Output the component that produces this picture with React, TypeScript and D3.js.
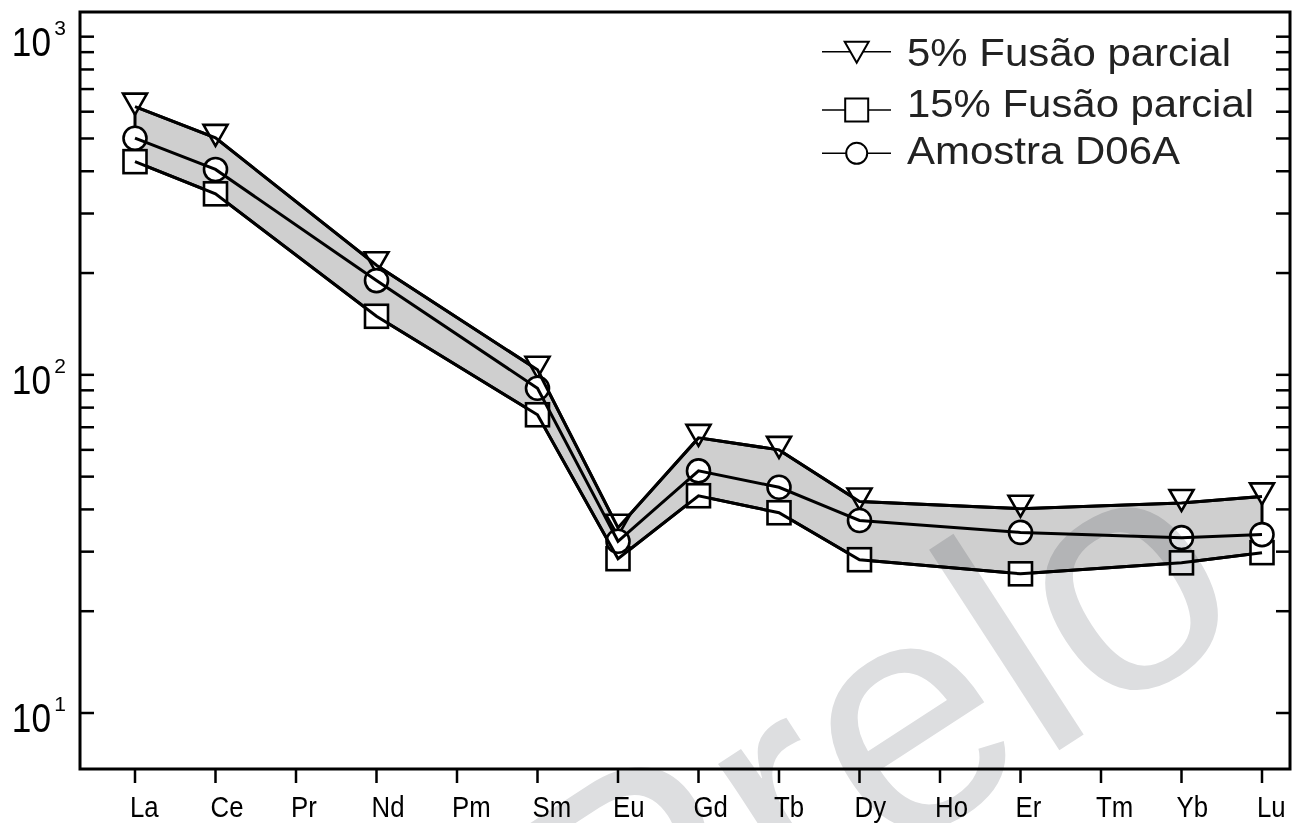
import React from 'react';
import * as d3 from 'd3';

// REE pattern (chondrite normalised)
const elements = ['La', 'Ce', 'Pr', 'Nd', 'Pm', 'Sm', 'Eu', 'Gd', 'Tb', 'Dy', 'Ho', 'Er', 'Tm', 'Yb', 'Lu'];
const measured = ['La', 'Ce', 'Nd', 'Sm', 'Eu', 'Gd', 'Tb', 'Dy', 'Er', 'Yb', 'Lu'];

const melt5 = [621, 502, 211, 103.5, 35.3, 65.1, 60.0, 42.2, 40.2, 41.8, 43.7];
const melt15 = [427, 343, 149, 76.2, 28.6, 43.9, 39.1, 28.4, 25.8, 27.8, 29.8];
const sampleD06A = [501, 405, 190, 91.3, 32.2, 52.0, 46.5, 37.1, 34.2, 33.0, 33.7];

const seriesNames = ['5% Fusão parcial', '15% Fusão parcial', 'Amostra D06A'];
const yLabelPowers = [10, 100, 1000];

const W = 1300;
const H = 823;
const left = 80;
const right = 1290;
const top = 12;
const bottom = 769;

const FONT = '"Liberation Sans", Arial, Helvetica, sans-serif';

const x = d3.scalePoint<string>().domain(elements).range([135, 1262]);
const y = d3.scaleLog().domain([6.83, 1183]).range([bottom, top]);

type Pt = [number, number];
const pts = (vals: number[]): Pt[] => vals.map((v, i) => [x(measured[i])!, y(v)]);

const line = d3.line<Pt>().x(d => d[0]).y(d => d[1]);

const Marker: React.FC<{ kind: string; cx: number; cy: number; legend?: boolean }> = ({ kind, cx, cy, legend }) => {
  const sw = legend ? 2 : 2.6;
  if (kind === 'tri') {
    const dy = legend ? -10 : -13;
    const p = `M${cx - 12},${cy + dy} L${cx + 12},${cy + dy} L${cx},${cy + dy + 21} Z`;
    return <path d={p} fill="#fff" stroke="#000" strokeWidth={sw} />;
  }
  if (kind === 'sq') {
    return <rect x={cx - 11.5} y={cy - 11.5} width={23} height={23} fill="#fff" stroke="#000" strokeWidth={sw} />;
  }
  return <circle cx={cx} cy={cy} r={legend ? 10.5 : 11.5} fill="#fff" stroke="#000" strokeWidth={sw} />;
};

export default function App() {
  const p5 = pts(melt5);
  const p15 = pts(melt15);
  const pS = pts(sampleD06A);

  const band = line([...p5, ...p15.slice().reverse()]) + 'Z';

  const ticks = y.ticks().filter(t => t >= 10 && t <= 1000);

  const legendRows = [
    { kind: 'tri', ly: 51.7, ty: 66, len: 324 },
    { kind: 'sq', ly: 110, ty: 116.5, len: 347 },
    { kind: 'circ', ly: 153.3, ty: 164, len: 273 },
  ];

  return (
    <svg width={W} height={H} style={{ position: 'absolute', left: 0, top: 0, background: '#fff' }}>
      <rect x={0} y={0} width={W} height={H} fill="#fff" />

      {/* shaded melting envelope */}
      <path d={band} fill="#cfcfcf" stroke="#000" strokeWidth={3} strokeLinejoin="miter" />

      {/* markers */}
      {p5.map((d, i) => <Marker key={'t' + i} kind="tri" cx={d[0]} cy={d[1]} />)}
      {p15.map((d, i) => <Marker key={'s' + i} kind="sq" cx={d[0]} cy={d[1]} />)}
      {pS.map((d, i) => <Marker key={'c' + i} kind="circ" cx={d[0]} cy={d[1]} />)}

      {/* lines on top */}
      {[p5, p15, pS].map((p, i) => (
        <path key={'l' + i} d={line(p)!} fill="none" stroke="#000" strokeWidth={3} strokeLinejoin="miter" />
      ))}

      {/* frame */}
      <rect x={left} y={top} width={right - left} height={bottom - top} fill="none" stroke="#000" strokeWidth={3} />

      {/* y ticks, both sides, inward */}
      {ticks.map(t => (
        <g key={'yt' + t}>
          <line x1={left} x2={left + 14} y1={y(t)} y2={y(t)} stroke="#000" strokeWidth={2.5} />
          <line x1={right - 14} x2={right} y1={y(t)} y2={y(t)} stroke="#000" strokeWidth={2.5} />
        </g>
      ))}

      {/* y tick labels 10^n */}
      {yLabelPowers.map(v => (
        <g key={'yl' + v} fontFamily={FONT} fill="#000">
          <text transform={`translate(${51},${y(v) + 19}) scale(0.88,1)`} fontSize={40} textAnchor="end">10</text>
          <text x={66} y={y(v) - 2} fontSize={21} textAnchor="end">{Math.round(Math.log10(v))}</text>
        </g>
      ))}

      {/* x ticks and labels */}
      {elements.map(e => (
        <g key={'x' + e}>
          <line x1={x(e)!} x2={x(e)!} y1={bottom} y2={bottom + 14} stroke="#000" strokeWidth={2.5} />
          <text transform={`translate(${x(e)! - 5},${817}) scale(0.86,1)`} fontSize={30} fontFamily={FONT} fill="#000">{e}</text>
        </g>
      ))}

      {/* legend */}
      {legendRows.map((r, i) => (
        <g key={'lg' + i}>
          <line x1={822} x2={891} y1={r.ly} y2={r.ly} stroke="#000" strokeWidth={1.6} />
          <Marker kind={r.kind} cx={856.7} cy={r.ly} legend />
          <text x={907} y={r.ty} fontSize={38} fontFamily={FONT} fill="#222" textLength={r.len} lengthAdjust="spacingAndGlyphs">{seriesNames[i]}</text>
        </g>
      ))}

      {/* watermark */}
      <text
        transform="translate(610,1042) rotate(-33)"
        fontSize={330}
        fontFamily={FONT}
        fill="#dddee0"
        style={{ mixBlendMode: 'multiply' }}
      >Prelo</text>
    </svg>
  );
}
